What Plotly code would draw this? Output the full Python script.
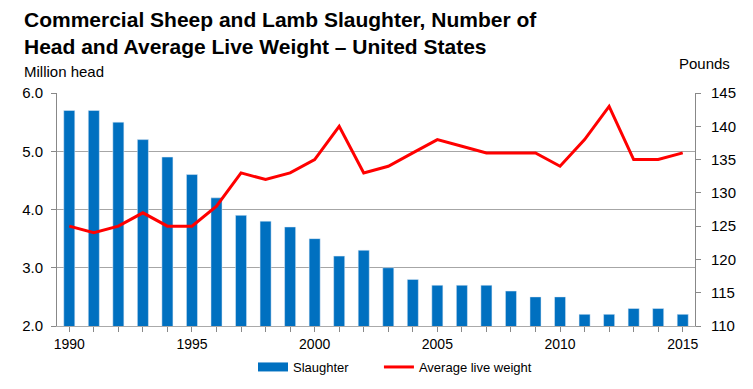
import plotly.graph_objects as go

years = list(range(1990, 2016))
slaughter = [5.7, 5.7, 5.5, 5.2, 4.9, 4.6, 4.2, 3.9, 3.8, 3.7, 3.5, 3.2, 3.3, 3.0,
             2.8, 2.7, 2.7, 2.7, 2.6, 2.5, 2.5, 2.2, 2.2, 2.3, 2.3, 2.2]
live_weight = [125, 124, 125, 127, 125, 125, 128, 133, 132, 133, 135, 140, 133, 134,
               136, 138, 137, 136, 136, 136, 134, 138, 143, 135, 135, 136]
left_ticks = [2.0, 3.0, 4.0, 5.0, 6.0]
right_ticks = [110, 115, 120, 125, 130, 135, 140, 145]
x_labels = [1990, 1995, 2000, 2005, 2010, 2015]

font = "Liberation Sans, Arial, sans-serif"
BLUE = "#0070c0"
RED = "#ff0000"

fig = go.Figure()
fig.add_trace(go.Bar(x=years, y=slaughter, name="Slaughter", marker_color=BLUE,
                     width=0.45, base=0, yaxis="y", showlegend=False))
# legend-only entry to mimic the wide rectangular key
fig.add_trace(go.Scatter(x=[None], y=[None], name="Slaughter" + "\u00a0" * 7, mode="lines",
                         line=dict(color=BLUE, width=9), yaxis="y"))
fig.add_trace(go.Scatter(x=years, y=live_weight, name="Average live weight", mode="lines",
                         line=dict(color=RED, width=3), yaxis="y2"))

# page body adds an 8px offset; margins compensate so plot lands at x 57-695, y 93-326
fig.update_layout(
    width=753, height=389,
    margin=dict(l=49, r=66, t=85, b=71, autoexpand=False),
    paper_bgcolor="white", plot_bgcolor="white",
    font=dict(family=font, size=14, color="#000"),
    showlegend=True,
    legend=dict(orientation="h", x=(253 - 57) / 638, xanchor="left", y=-0.176, yanchor="middle",
                font=dict(size=13), traceorder="normal", itemwidth=30),
    xaxis=dict(range=[1989.5, 2015.5], tickmode="array", tickvals=years,
               ticktext=[str(y) if y in x_labels else "" for y in years],
               ticks="outside", ticklen=5, tickcolor="#888", showline=True,
               linecolor="#aaa", linewidth=1, showgrid=False, zeroline=False,
               tickfont=dict(size=14)),
    yaxis=dict(range=[2.0, 6.0], tickvals=left_ticks, tickformat=".1f",
               showgrid=True, gridcolor="#a6a6a6", gridwidth=1, showline=True,
               linecolor="#888", ticks="outside", ticklen=5, tickcolor="#888",
               zeroline=False, tickfont=dict(size=15), ticklabelstandoff=5),
    yaxis2=dict(range=[110, 145], tickvals=right_ticks, overlaying="y", side="right",
                showgrid=False, showline=True, linecolor="#888", ticks="outside",
                ticklen=5, tickcolor="#888", zeroline=False, tickfont=dict(size=15),
                ticklabelstandoff=7),
    bargap=0.5,
)

fig.add_annotation(text="<b>Commercial Sheep and Lamb Slaughter, Number of<br>Head and Average Live Weight – United States</b>",
                   xref="paper", yref="paper", x=-35/638, y=1 + (93-33)/233, xanchor="left", yanchor="middle",
                   align="left", showarrow=False, font=dict(size=21, family=font))
fig.add_annotation(text="Million head", xref="paper", yref="paper", x=-35/638, y=1 + (93-72)/233,
                   xanchor="left", yanchor="middle", showarrow=False, font=dict(size=15, family=font))
fig.add_annotation(text="Pounds", xref="paper", yref="paper", x=1 + 37/638, y=1 + (93-63)/233,
                   xanchor="right", yanchor="middle", showarrow=False, font=dict(size=15, family=font))

fig.write_html("out.html")
